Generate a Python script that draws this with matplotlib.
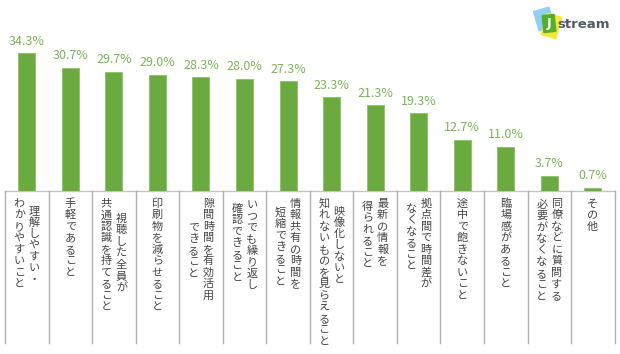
import matplotlib
matplotlib.use("Agg")
import matplotlib.pyplot as plt
import matplotlib.transforms as mtransforms
from matplotlib.patches import Rectangle

plt.rcParams['font.family'] = ['Noto Sans CJK JP', 'DejaVu Sans']

categories = [
    "理解しやすい・\nわかりやすいこと",
    "手軽であること",
    "視聴した全員が\n共通認識を持てること",
    "印刷物を減らせること",
    "隙間時間を有効活用\nできること",
    "いつでも繰り返し\n確認できること",
    "情報共有の時間を\n短縮できること",
    "映像化しないと\n知れないものを見らえること",
    "最新の情報を\n得られること",
    "拠点間で時間差が\nなくなること",
    "途中で飽きないこと",
    "臨場感があること",
    "同僚などに質問する\n必要がなくなること",
    "その他",
]
values = [34.3, 30.7, 29.7, 29.0, 28.3, 28.0, 27.3, 23.3, 21.3, 19.3, 12.7, 11.0, 3.7, 0.7]

# style: per-column vertical shift of label text (pixels)
col_shift = [[7, 0], [0], [15, 0], [0], [0, 24], [1, 5], [0, 9], [7, 0],
             [0, 3], [0, 5], [0], [0], [0, 1], [0]]

W, H = 620, 354
fig = plt.figure(figsize=(W / 100, H / 100), dpi=100)
base_px = 190.7
ax = fig.add_axes([5 / W, 1 - base_px / H, 609.6 / W, 160 / H])
ax.set_xlim(-0.5, len(values) - 0.5)
ax.set_ylim(0, 40)
ax.axis('off')

bar_color = '#6aaa40'
lab_color = '#7cb356'
x = list(range(len(values)))
ax.bar(x, values, width=0.39, color=bar_color, edgecolor='#8cc064', linewidth=0.6, zorder=3)
for xi, v in zip(x, values):
    ax.annotate(f"{v:.1f}%", (xi, v), xytext=(0, 4), textcoords='offset points',
                ha='center', va='bottom', fontsize=9, color=lab_color)

# baseline and dividers
blend = mtransforms.blended_transform_factory(ax.transData, fig.transFigure)
ax.plot([-0.5, len(values) - 0.5], [1 - base_px / H] * 2, transform=blend,
        color='#c4c4c4', lw=1, clip_on=False)
for i in range(len(values) + 1):
    ax.plot([i - 0.5, i - 0.5], [1 - base_px / H, 1 - 343 / H], transform=blend,
            color='#b0b0b0', lw=1, clip_on=False)

# vertical (tategaki) labels
top_px = 198
pitch = 11.5
col_sp = 15 / 43.54
for i, lab in enumerate(categories):
    cols = lab.split("\n")
    n = len(cols)
    for j, col in enumerate(cols):
        cx = i + ((n - 1) / 2 - j) * col_sp
        for k, ch in enumerate(col):
            py = top_px + col_shift[i][j] + (k + 0.5) * pitch
            ax.text(cx, 1 - py / H, ch, transform=blend, ha='center', va='center',
                    fontsize=8, color='#444444', clip_on=False)

# logo
def fx(px):
    return px / W

def fy(py):
    return 1 - py / H

blue = Rectangle((536, H - 29), 16, 20, color='#8fd0ef',
                 transform=mtransforms.Affine2D().rotate_deg_around(544, H - 19, 16), zorder=5)
yellow = Rectangle((544, H - 37), 15, 22, color='#f2e83a',
                   transform=mtransforms.Affine2D().rotate_deg_around(551.5, H - 26, -16), zorder=6)
green = Rectangle((543, H - 32), 12, 17, color='#56ad2c',
                  transform=mtransforms.Affine2D().rotate_deg_around(549, H - 23.5, 6), zorder=7)
for p in (blue, yellow, green):
    fig.add_artist(p)
fig.text(fx(549), fy(23.5), "J", ha='center', va='center', fontsize=9, fontweight='bold',
         color='white', family='DejaVu Sans', zorder=8)
fig.text(fx(557), fy(24), "stream", ha='left', va='center', fontsize=9.5, fontweight='bold',
         color='#555a66', family='DejaVu Sans', zorder=8)

fig.savefig("out.png", dpi=100)
